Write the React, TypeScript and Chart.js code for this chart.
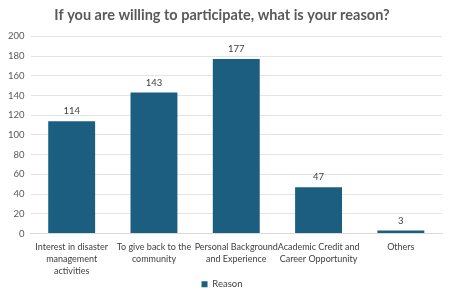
import React, { useEffect, useRef } from "react";
import { Chart, registerables } from "chart.js";

Chart.register(...registerables);

const categories: string[][] = [
  ["Interest in disaster", "management", "activities"],
  ["To give back to the", "community"],
  ["Personal Background", "and Experience"],
  ["Academic Credit and", "Career Opportunity"],
  ["Others"],
];
const reasonValues: number[] = [114, 143, 177, 47, 3];
const seriesName = "Reason";
const titleText = "If you are willing to participate, what is your reason?";

const FONT = "Lato, 'Noto Sans', sans-serif";

// Writes each bar's value just above it
const valueLabels = {
  id: "valueLabels",
  afterDatasetsDraw(chart: any) {
    const { ctx } = chart;
    ctx.save();
    ctx.font = `9.5px ${FONT}`;
    ctx.fillStyle = "#404040";
    ctx.textAlign = "center";
    ctx.textBaseline = "bottom";
    chart.data.datasets.forEach((ds: any, i: number) => {
      const meta = chart.getDatasetMeta(i);
      meta.data.forEach((bar: any, j: number) => {
        ctx.fillText(String(ds.data[j]), bar.x, bar.y - 5);
      });
    });
    ctx.restore();
  },
};

export default function App() {
  const ref = useRef<HTMLCanvasElement>(null);
  useEffect(() => {
    if (!ref.current) return;
    const chart = new Chart(ref.current, {
      type: "bar",
      data: {
        labels: categories,
        datasets: [
          {
            label: seriesName,
            data: reasonValues,
            backgroundColor: "#1B5E80",
            categoryPercentage: 1,
            barPercentage: 0.57,
          },
        ],
      },
      options: {
        animation: false,
        responsive: false,
        maintainAspectRatio: false,
        layout: { padding: { left: 2, right: 10, top: 5, bottom: 1 } },
        plugins: {
          title: {
            display: true,
            text: titleText,
            color: "#595959",
            font: { family: FONT, size: 14.5, weight: "bold" },
            padding: { top: 2, bottom: 12 },
          },
          legend: {
            position: "bottom",
            labels: {
              boxWidth: 6,
              boxHeight: 6,
              color: "#404040",
              font: { family: FONT, size: 9.5 },
              padding: 2,
            },
          },
          tooltip: { enabled: false },
        },
        scales: {
          x: {
            grid: { display: false, drawTicks: false },
            border: { color: "#D9D9D9" },
            ticks: {
              color: "#404040",
              font: { family: FONT, size: 9, lineHeight: 1.33 },
              maxRotation: 0,
              autoSkip: false,
              padding: 8,
            },
            afterFit(scale: any) {
              scale.height = 44;
            },
          },
          y: {
            min: 0,
            max: 200,
            grid: { color: "#E4E4E4", drawTicks: false },
            border: { display: false },
            ticks: {
              stepSize: 20,
              color: "#595959",
              font: { family: FONT, size: 9.5 },
              padding: 6,
            },
          },
        },
      },
      plugins: [valueLabels],
    });
    return () => chart.destroy();
  }, []);
  return <canvas ref={ref} width={452} height={300} style={{ display: "block", margin: "-8px" }} />;
}
